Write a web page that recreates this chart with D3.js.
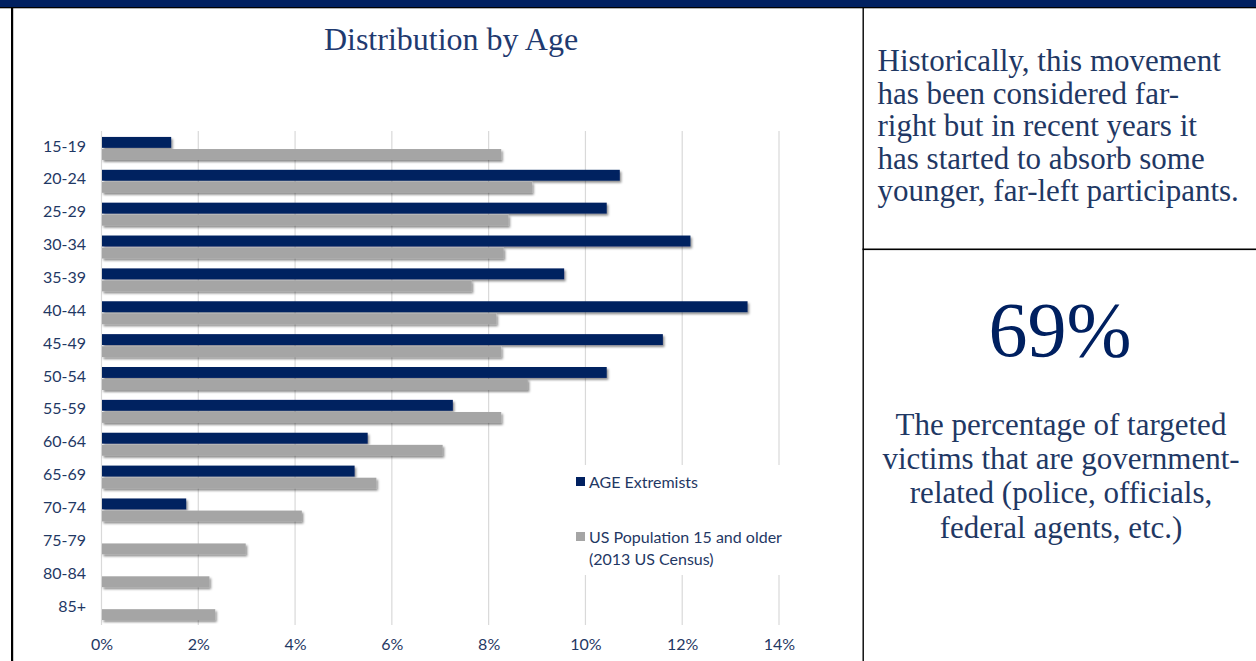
<!DOCTYPE html>
<html>
<head>
<meta charset="utf-8">
<script src="https://cdn.jsdelivr.net/npm/d3@7"></script>
<style>
  html, body { margin: 0; padding: 0; background: #fff; }
  svg { display: block; }
</style>
</head>
<body>
<script>
// data
var ages = ["15-19", "20-24", "25-29", "30-34", "35-39", "40-44", "45-49", "50-54",
	"55-59", "60-64", "65-69", "70-74", "75-79", "80-84", "85+"];
var extremists = [1.44, 10.71, 10.44, 12.17, 9.56, 13.35, 11.6, 10.44, 7.26, 5.5, 5.23, 1.75, 0, 0, 0];
var usPopulation = [8.26, 8.9, 8.41, 8.31, 7.65, 8.16, 8.26, 8.81, 8.26, 7.05, 5.68, 4.14, 2.98, 2.23, 2.35];
var xTicks = [0, 2, 4, 6, 8, 10, 12, 14];
var seriesNames = ["AGE Extremists", "US Population 15 and older (2013 US Census)"];
var noteLines = ["Historically, this movement", "has been considered far-",
	"right but in recent years it", "has started to absorb some", "younger, far-left participants."];
var bigStat = "69%";
var statLines = ["The percentage of targeted", "victims that are government-",
	"related (police, officials,", "federal agents, etc.)"];

var width = 1256,
	height = 661;

var navy = "#002060",
	grey = "#a5a5a5",
	textNavy = "#1f3864",
	serif = "'Liberation Serif', 'Times New Roman', serif",
	sans = "Lato, 'Open Sans', sans-serif";

var svg = d3.select("body").append("svg")
	.attr("width", width)
	.attr("height", height);

//drop shadow like the excel bars
var defs = svg.append("defs");
defs.append("filter")
	.attr("id", "shadow")
	.attr("x", "-5%").attr("y", "-50%")
	.attr("width", "120%").attr("height", "250%")
	.append("feDropShadow")
	.attr("dx", 1.5).attr("dy", 2)
	.attr("stdDeviation", 1.3)
	.attr("flood-color", "#000")
	.attr("flood-opacity", 0.45);

//frame of the page
svg.append("rect").attr("x", 0).attr("y", 0).attr("width", width).attr("height", 7).attr("fill", navy);
svg.append("rect").attr("x", 0).attr("y", 7).attr("width", width).attr("height", 1.3).attr("fill", "#000");
svg.append("rect").attr("x", 11).attr("y", 7).attr("width", 2.2).attr("height", height - 7).attr("fill", "#000");
svg.append("rect").attr("x", 862.5).attr("y", 7).attr("width", 1.4).attr("height", height - 7).attr("fill", "#000");
svg.append("rect").attr("x", 862.5).attr("y", 248.5).attr("width", width - 862.5).attr("height", 1.6).attr("fill", "#000");

//title
svg.append("text")
	.attr("x", 451)
	.attr("y", 50)
	.attr("text-anchor", "middle")
	.attr("font-family", serif)
	.attr("font-size", 32)
	.attr("fill", "#1f3a70")
	.text("Distribution by Age");

//scales
var x = d3.scaleLinear().domain([0, 14]).range([101.5, 779]);
var y = d3.scaleBand().domain(ages).range([132, 625]).paddingInner(0.3).paddingOuter(0.15);
var ySub = d3.scaleBand().domain([0, 1]).range([0, y.bandwidth()]).paddingInner(0.1);

var chart = svg.append("g");

//gridlines
chart.append("g")
	.selectAll("line")
	.data(xTicks)
	.enter()
	.append("line")
	.attr("x1", function(d) { return x(d); })
	.attr("x2", function(d) { return x(d); })
	.attr("y1", 131)
	.attr("y2", 625)
	.attr("stroke", "#d9d9d9")
	.attr("stroke-width", 1.2);

//x axis labels
var xAxis = d3.axisBottom(x)
	.tickValues(xTicks)
	.tickSize(0)
	.tickPadding(0)
	.tickFormat(function(d) { return d + "%"; });

var xg = chart.append("g")
	.attr("transform", "translate(0,639)")
	.call(xAxis);
xg.select(".domain").remove();
xg.selectAll("text")
	.attr("font-family", sans)
	.attr("font-size", 16)
	.attr("fill", textNavy)
	.attr("dy", "0.71em")
	.attr("y", 0);

//y axis labels
var yAxis = d3.axisLeft(y).tickSize(0).tickPadding(0);
var yg = chart.append("g")
	.attr("transform", "translate(86,-2)")
	.call(yAxis);
yg.select(".domain").remove();
yg.selectAll("text")
	.attr("font-family", sans)
	.attr("font-size", 16)
	.attr("fill", textNavy);

//bars
var rows = ages.map(function(a, i) {
	return {age: a, values: [extremists[i], usPopulation[i]]};
});

var barGroup = chart.append("g").attr("filter", "url(#shadow)");
var row = barGroup.selectAll(".row")
	.data(rows)
	.enter()
	.append("g")
	.attr("class", "row")
	.attr("transform", function(d) { return "translate(0," + y(d.age) + ")"; });

row.selectAll("rect")
	.data(function(d) { return d.values; })
	.enter()
	.append("rect")
	.attr("x", x(0) + 0.5)
	.attr("y", function(d, i) { return ySub(i); })
	.attr("height", ySub.bandwidth())
	.attr("width", function(d) { return Math.max(0, x(d) - x(0) - 0.5); })
	.attr("fill", function(d, i) { return i === 0 ? navy : grey; });

//legend
var legend = chart.append("g").attr("transform", "translate(576,465)");
legend.append("rect")
	.attr("x", -5).attr("y", 0)
	.attr("width", 220).attr("height", 110)
	.attr("fill", "#fff");

var legendItems = [
	{color: navy, lines: [seriesNames[0]], y: 17},
	{color: grey, lines: ["US Population 15 and older", "(2013 US Census)"], y: 72}
];
legendItems.forEach(function(item) {
	legend.append("rect")
		.attr("x", 0).attr("y", item.y - 5)
		.attr("width", 9).attr("height", 9)
		.attr("fill", item.color);
	var t = legend.append("text")
		.attr("x", 13)
		.attr("y", item.y)
		.attr("font-family", sans)
		.attr("font-size", 16)
		.attr("fill", textNavy)
		.attr("dy", "0.35em");
	item.lines.forEach(function(l, i) {
		t.append("tspan").attr("x", 13).attr("dy", i === 0 ? "0.35em" : 22).text(l);
	});
});

//right panel text
svg.append("g")
	.selectAll("text")
	.data(noteLines)
	.enter()
	.append("text")
	.attr("x", 877.5)
	.attr("y", function(d, i) { return 71 + i * 32.5; })
	.attr("font-family", serif)
	.attr("font-size", 31)
	.attr("fill", textNavy)
	.text(function(d) { return d; });

svg.append("text")
	.attr("x", 1060)
	.attr("y", 356)
	.attr("text-anchor", "middle")
	.attr("font-family", serif)
	.attr("font-size", 78)
	.attr("fill", navy)
	.text(bigStat);

svg.append("g")
	.selectAll("text")
	.data(statLines)
	.enter()
	.append("text")
	.attr("x", 1061)
	.attr("y", function(d, i) { return 435 + i * 34.2; })
	.attr("text-anchor", "middle")
	.attr("font-family", serif)
	.attr("font-size", 31)
	.attr("fill", textNavy)
	.text(function(d) { return d; });
</script>
</body>
</html>
